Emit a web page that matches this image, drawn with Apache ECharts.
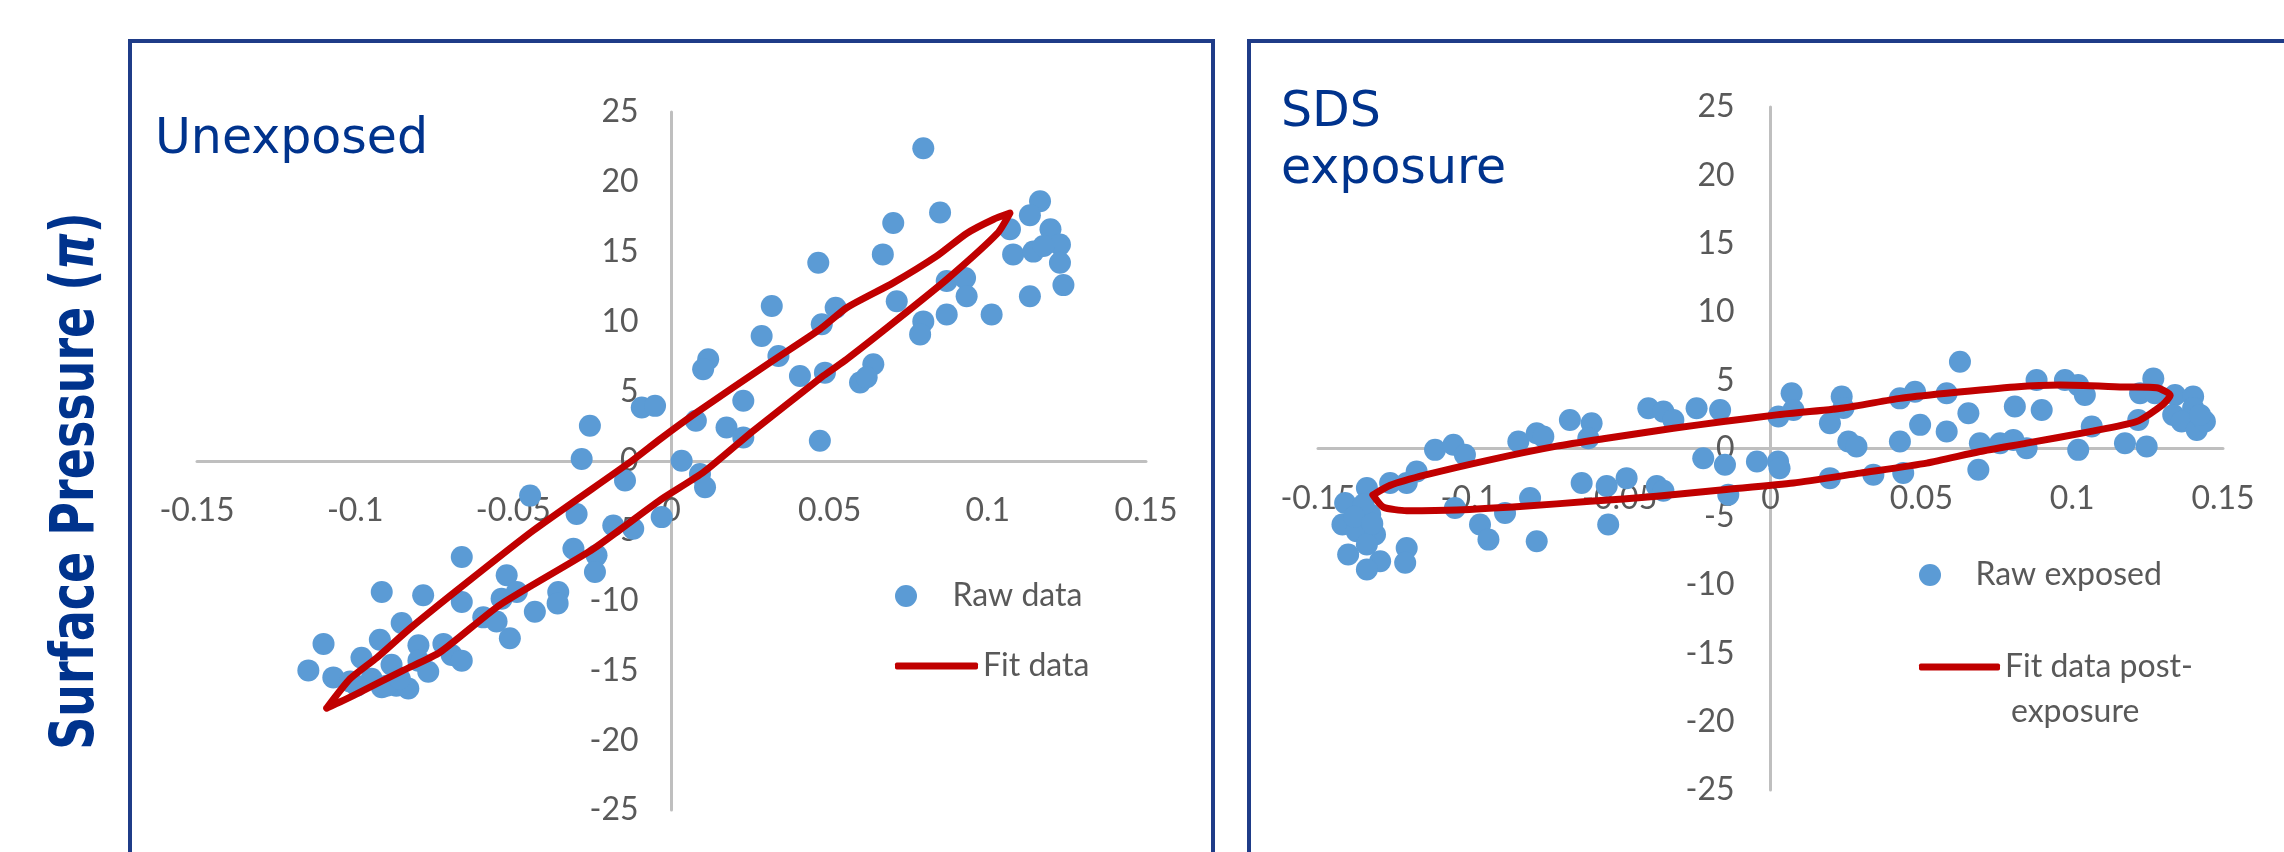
<!DOCTYPE html>
<html>
<head>
<meta charset="utf-8">
<title>Surface pressure hysteresis</title>
<script src="https://cdn.jsdelivr.net/npm/echarts@6/dist/echarts.min.js"></script>
<style>
  html, body { margin: 0; padding: 0; background: #fff; }
  #main { width: 2284px; height: 852px; }
</style>
</head>
<body>
<div id="main"></div>
<script>
// axis ranges (same for both panels)
const xMin = -0.15, xMax = 0.15, xStep = 0.05;
const yMin = -25, yMax = 25, yStep = 5;

// left panel: unexposed
const rawUnexposed = [
  [0.0796, 22.4], [0.0849, 17.8], [0.0701, 17.05], [0.0668, 14.8], [0.0464, 14.2],
  [0.1165, 18.6], [0.1133, 17.6], [0.107, 16.6], [0.1198, 16.6], [0.1228, 15.5],
  [0.108, 14.8], [0.1144, 15.0], [0.1176, 15.4], [0.1228, 14.2], [0.1239, 12.6],
  [0.1133, 11.8], [0.087, 12.9], [0.0928, 13.1], [0.0933, 11.8], [0.0712, 11.45],
  [0.087, 10.5], [0.1012, 10.5], [0.0796, 10.0], [0.0786, 9.07], [0.0519, 10.98],
  [0.0475, 9.79], [0.0317, 11.1], [0.0285, 8.95], [0.0338, 7.52], [0.0116, 7.29],
  [0.01, 6.57], [0.0406, 6.09], [0.0485, 6.33], [0.0638, 6.93], [0.0596, 5.62],
  [0.0617, 6.0], [0.0227, 4.31], [0.0077, 2.88], [0.0174, 2.4], [0.0227, 1.69],
  [0.0469, 1.45], [0.0032, 0.02], [0.009, -0.93], [0.0106, -1.88],
  [-0.0258, 2.52], [-0.0284, 0.14], [-0.0094, 3.83], [-0.0052, 3.95], [-0.0147, -1.4],
  [-0.0447, -2.48], [-0.03, -3.79], [-0.0031, -4.02], [-0.0184, -4.62], [-0.0121, -4.86],
  [-0.031, -6.29], [-0.0237, -6.76], [-0.0242, -7.95], [-0.0663, -6.88], [-0.0521, -8.19],
  [-0.0489, -9.38], [-0.0537, -9.86], [-0.0358, -9.38], [-0.036, -10.2], [-0.0432, -10.8],
  [-0.0663, -10.1], [-0.0785, -9.62], [-0.0916, -9.38], [-0.0595, -11.2], [-0.0553, -11.5],
  [-0.0511, -12.7], [-0.0853, -11.6], [-0.11, -13.1], [-0.0922, -12.8], [-0.08, -13.2],
  [-0.0721, -13.1], [-0.0695, -13.9], [-0.0663, -14.3], [-0.098, -14.1], [-0.08, -14.3],
  [-0.0769, -15.1], [-0.1148, -15.0], [-0.1069, -15.5], [-0.1016, -15.8], [-0.0948, -15.6],
  [-0.0885, -14.6], [-0.0916, -16.2], [-0.087, -16.1], [-0.0832, -16.3], [-0.0995, -16.1],
  [-0.0901, -16.1], [-0.0859, -15.6]
];

// fit loop: upper branch left->right, then lower branch back
const fitUnexposed = [
  [-0.109, -17.7], [-0.1016, -15.6], [-0.0932, -14.1], [-0.0827, -12.0], [-0.0669, -9.1],
  [-0.0437, -4.98], [-0.0126, 0], [-0.0036, 1.57], [0.008, 3.48], [0.0311, 7.05],
  [0.0469, 9.43], [0.0554, 10.98], [0.0701, 12.76], [0.0838, 14.67], [0.0933, 16.3],
  [0.1017, 17.3], [0.107, 17.76],
  [0.103, 16.3], [0.087, 13.0], [0.0701, 9.9], [0.0554, 7.29], [0.048, 6.1],
  [0.0259, 2.17], [0.0101, -0.81], [-0.0036, -2.8], [-0.0247, -6.29], [-0.0542, -10.3],
  [-0.0732, -13.7], [-0.0848, -15.0], [-0.1006, -16.8], [-0.109, -17.7]
];

// right panel: SDS exposure
const rawExposed = [
  [-0.1338, -2.9], [-0.141, -3.99], [-0.1327, -4.84], [-0.1419, -5.57], [-0.1372, -6.06],
  [-0.1311, -6.3], [-0.14, -7.76], [-0.1338, -7.03], [-0.1294, -8.25], [-0.1338, -8.86],
  [-0.1206, -7.28], [-0.1211, -8.37], [-0.1349, -4.1], [-0.138, -5.0], [-0.132, -5.5],
  [-0.1261, -2.53], [-0.1206, -2.53], [-0.1173, -1.68], [-0.1112, -0.1], [-0.1051, 0.27],
  [-0.1013, -0.46], [-0.1046, -4.36], [-0.0963, -5.57], [-0.0935, -6.67], [-0.088, -4.72],
  [-0.0797, -3.63], [-0.0775, -6.79], [-0.0836, 0.51], [-0.0775, 1.12], [-0.0753, 0.87],
  [-0.0665, 2.09], [-0.0593, 1.85], [-0.0604, 0.75], [-0.0626, -2.53], [-0.0543, -2.75],
  [-0.0477, -2.17], [-0.0538, -5.57], [-0.0405, 2.94], [-0.0355, 2.7], [-0.0322, 2.09],
  [-0.0245, 2.94], [-0.0167, 2.82], [-0.0377, -2.75], [-0.0355, -3.1], [-0.0223, -0.71],
  [-0.0151, -1.19], [-0.014, -3.38], [-0.0045, -0.95], [0.0025, -0.95], [0.003, -1.44],
  [0.0026, 2.34], [0.007, 4.04], [0.0076, 2.82], [0.0197, -2.17], [0.0197, 1.85],
  [0.0236, 3.8], [0.0242, 2.97], [0.0258, 0.51], [0.0285, 0.15], [0.0341, -1.92],
  [0.0429, 3.67], [0.0479, 4.16], [0.0429, 0.51], [0.0496, 1.73], [0.044, -1.8],
  [0.0584, 4.04], [0.0628, 6.35], [0.0584, 1.24], [0.0656, 2.58], [0.0694, 0.39],
  [0.0689, -1.56], [0.0761, 0.39], [0.0805, 0.63], [0.0849, 0.02], [0.081, 3.07],
  [0.0882, 5.01], [0.0899, 2.82], [0.0976, 5.01], [0.102, 4.64], [0.1042, 3.91],
  [0.1065, 1.61], [0.102, -0.1], [0.1175, 0.39], [0.1247, 0.15], [0.1219, 2.09],
  [0.1225, 4.04], [0.1269, 5.13], [0.1274, 4.04], [0.1341, 3.91], [0.1401, 3.8],
  [0.1335, 2.46], [0.1401, 2.97], [0.1363, 1.97], [0.1413, 1.36], [0.144, 1.97],
  [0.1424, 2.46]
];

const fitExposed = [
  [-0.1318, -3.4], [-0.1261, -2.7], [-0.114, -1.92], [-0.093, -0.83], [-0.0709, 0.17],
  [-0.0543, 0.75], [-0.0322, 1.48], [-0.0156, 1.97], [0.002, 2.46], [0.0242, 2.97],
  [0.0429, 3.67], [0.0584, 4.04], [0.081, 4.5], [0.096, 4.64], [0.1181, 4.5],
  [0.128, 4.45], [0.1325, 3.9],
  [0.13, 3.2], [0.1214, 1.97], [0.1059, 1.24], [0.0849, 0.39], [0.0694, -0.22],
  [0.0518, -1.07], [0.0297, -1.8], [0.0076, -2.53], [-0.0156, -3.02], [-0.0377, -3.5],
  [-0.0599, -3.87], [-0.0819, -4.23], [-0.104, -4.5], [-0.1206, -4.55], [-0.1283, -4.3],
  [-0.1318, -3.4]
];

const navy = '#00338D';
const frame = '#1F3C88';
const axisGray = '#BFBFBF';
const labelGray = '#595959';
const tickFont = 'Lato, "Open Sans", sans-serif';
const titleFont = '"DejaVu Sans", Verdana, sans-serif';

// grid boxes [left, top, width, height]; axes cross at 0 in the middle
const gridBoxes = [
  [197, 112, 949, 698],
  [1318, 107, 905, 683]
];

const chart = echarts.init(document.getElementById('main'), null, { width: 2284, height: 852 });

// the axes are pulled into the middle of each grid with a negative offset
function xAxisFor(gi) {
  const h = gridBoxes[gi][3];
  return {
    type: 'value', gridIndex: gi, min: xMin, max: xMax, interval: xStep,
    position: 'bottom', offset: -h * (0 - yMin) / (yMax - yMin),
    axisLine: { onZero: false, lineStyle: { color: axisGray, width: 3 } },
    axisTick: { show: false },
    splitLine: { show: false },
    axisLabel: { margin: 34, color: labelGray, fontFamily: tickFont, fontSize: 32 }
  };
}
function yAxisFor(gi, margin) {
  const w = gridBoxes[gi][2];
  return {
    type: 'value', gridIndex: gi, min: yMin, max: yMax, interval: yStep,
    position: 'left', offset: -w * (0 - xMin) / (xMax - xMin),
    axisLine: { onZero: false, lineStyle: { color: axisGray, width: 3 } },
    axisTick: { show: false },
    splitLine: { show: false },
    axisLabel: { margin: margin, color: labelGray, fontFamily: tickFont, fontSize: 32 }
  };
}

function legendItem(name, left, top, width, height, icon, fmt) {
  return {
    data: [{ name: name, icon: icon }], left: left, top: top, padding: 0, orient: 'vertical',
    itemWidth: width, itemHeight: height, selectedMode: false,
    formatter: fmt || '{name}',
    textStyle: { color: labelGray, fontFamily: tickFont, fontSize: 32, lineHeight: 36 }
  };
}

function scatterSeries(name, gi, data) {
  return {
    name: name, type: 'scatter', xAxisIndex: gi, yAxisIndex: gi,
    symbolSize: 22, data: data, z: 2,
    itemStyle: { color: '#5B9BD5', opacity: 1 }
  };
}
function fitSeries(name, gi, data) {
  return {
    name: name, type: 'line', xAxisIndex: gi, yAxisIndex: gi,
    symbol: 'none', smooth: 0.2, data: data, z: 3,
    lineStyle: { color: '#C00000', width: 7, cap: 'round', join: 'round' },
    itemStyle: { color: '#C00000' }
  };
}

const option = {
  backgroundColor: '#fff',
  animation: false,
  grid: gridBoxes.map(function (b) {
    return { left: b[0], top: b[1], width: b[2], height: b[3], outerBoundsMode: 'none' };
  }),
  xAxis: [xAxisFor(0), xAxisFor(1)],
  yAxis: [yAxisFor(0, 33), yAxisFor(1, 36)],
  legend: [
    legendItem('Raw data', 895, 578, 83, 22, 'circle'),
    legendItem('Fit data', 895, 648, 83, 7, 'roundRect'),
    legendItem('Raw exposed', 1919, 557, 81, 22, 'circle'),
    legendItem('Fit data post-exposure', 1919, 649, 81, 7, 'roundRect', 'Fit data post-')
  ],
  graphic: [
    // panel frames
    { type: 'rect', shape: { x: 130, y: 41, width: 1083, height: 900 },
      style: { fill: 'none', stroke: frame, lineWidth: 4 }, silent: true },
    { type: 'rect', shape: { x: 1249, y: 41, width: 1100, height: 900 },
      style: { fill: 'none', stroke: frame, lineWidth: 4 }, silent: true },
    // panel titles
    { type: 'text', x: 155, y: 140,
      style: { text: 'Unexposed', fill: navy, font: '49px ' + titleFont,
        align: 'left', verticalAlign: 'middle', textAlign: 'left', textVerticalAlign: 'middle' } },
    { type: 'text', x: 1281, y: 113,
      style: { text: 'SDS', fill: navy, font: '49px ' + titleFont,
        align: 'left', verticalAlign: 'middle', textAlign: 'left', textVerticalAlign: 'middle' } },
    { type: 'text', x: 1281, y: 170,
      style: { text: 'exposure', fill: navy, font: '49px ' + titleFont,
        align: 'left', verticalAlign: 'middle', textAlign: 'left', textVerticalAlign: 'middle' } },
    // second line of the right legend entry
    { type: 'text', x: 2011, y: 712,
      style: { text: 'exposure', fill: labelGray, font: '32px ' + tickFont,
        align: 'left', verticalAlign: 'middle', textAlign: 'left', textVerticalAlign: 'middle' } },
    // shared y axis title, pi in italics
    { type: 'text', x: 77, y: 481, rotation: Math.PI / 2, scaleY: 1.3,
      style: {
        text: '{a|Surface Pressure (}{b|π}{a|)}',
        align: 'center', verticalAlign: 'middle', textAlign: 'center', textVerticalAlign: 'middle',
        rich: {
          a: { fill: navy, color: navy, fontFamily: titleFont, fontWeight: 'bold', fontSize: 46 },
          b: { fill: navy, color: navy, fontFamily: titleFont, fontWeight: 'bold', fontStyle: 'italic', fontSize: 46 }
        }
      } }
  ],
  series: [
    scatterSeries('Raw data', 0, rawUnexposed),
    fitSeries('Fit data', 0, fitUnexposed),
    scatterSeries('Raw exposed', 1, rawExposed),
    fitSeries('Fit data post-exposure', 1, fitExposed)
  ]
};

chart.setOption(option);

window.onresize = function () {
  chart.resize();
};
</script>
</body>
</html>
